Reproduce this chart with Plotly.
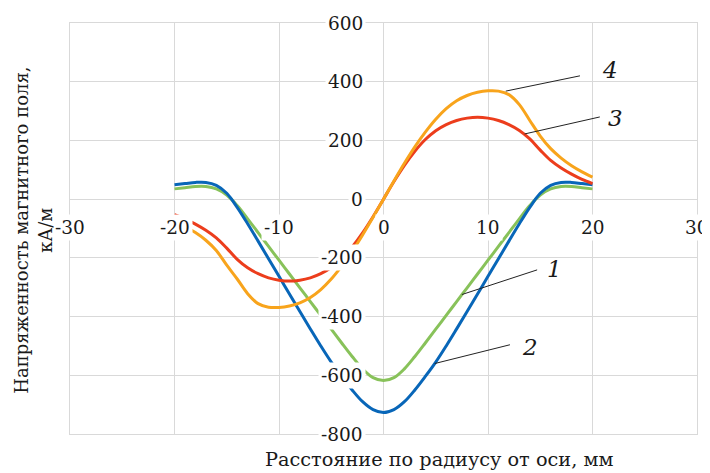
import plotly.graph_objects as go

# ---------------- data ----------------
x_mm = [-20, -19, -18, -17, -16, -15, -14, -13, -12, -11, -10, -9, -8, -7, -6, -5, -4, -3, -2, -1,
        0, 1, 2, 3, 4, 5, 6, 7, 8, 9, 10, 11, 12, 13, 14, 15, 16, 17, 18, 19, 20]

curve1 = [35, 39, 43, 43, 35, 14, -22, -67, -114, -161, -208, -255, -302, -349, -396, -443, -490, -536, -578, -608,
          -618, -608, -578, -536, -490, -443, -396, -349, -302, -255, -208, -161, -114, -67, -22, 14, 35, 43, 43, 39, 35]

curve2 = [49, 53, 57, 57, 47, 20, -28, -84, -143, -203, -263, -323, -383, -442, -500, -555, -604, -650, -690, -717,
          -727, -717, -690, -650, -604, -555, -500, -442, -383, -323, -263, -203, -143, -84, -28, 20, 47, 57, 57, 53, 49]

curve3 = [-53, -67, -85, -106, -132, -167, -205, -234, -254, -268, -276, -279, -276, -268, -254, -233, -203, -163, -115, -60,
          0, 60, 115, 163, 203, 233, 254, 268, 276, 279, 276, 268, 254, 234, 205, 167, 132, 106, 85, 67, 53]

curve4 = [-75, -93, -114, -140, -175, -225, -272, -322, -356, -368, -369, -364, -353, -335, -308, -272, -228, -178, -122, -62,
          0, 62, 122, 178, 228, 272, 308, 335, 353, 364, 369, 368, 356, 322, 268, 215, 172, 140, 114, 93, 75]

series_names = ["1", "2", "3", "4"]
series_colors = ["#88C25A", "#0866B8", "#EC3D1C", "#F8A41C"]

x_ticks = [-30, -20, -10, 0, 10, 20, 30]
y_ticks = [-800, -600, -400, -200, 0, 200, 400, 600]

x_title = "Расстояние по радиусу от оси, мм"
y_title_lines = ["Напряженность магнитного поля,", "кА/м"]

# leader lines: (curve point), (line end), (label centre)
leaders = {
    "4": ((11.7, 368), (18.8, 420), (21.7, 441)),
    "3": ((13.5, 222), (20.7, 280), (22.2, 277)),
    "1": ((7.5, -325), (14.7, -241), (16.4, -238)),
    "2": ((4.9, -560), (12.1, -496), (14.0, -503)),
}

# ---------------- figure ----------------
FONT = "DejaVu Serif"
GRID = "#D9D9D9"
TXT = "#1a1a1a"

fig = go.Figure()
for name, ys, col in zip(series_names, [curve1, curve2, curve3, curve4], series_colors):
    fig.add_trace(go.Scatter(x=x_mm, y=ys, mode="lines", name=name,
                             line=dict(color=col, width=3, shape="spline", smoothing=1.0),
                             hoverinfo="skip", showlegend=False))

annotations = []
for xv in x_ticks:
    annotations.append(dict(x=xv, y=0, xref="x", yref="y", text=str(xv), showarrow=False,
                            xanchor="center", yanchor="middle", yshift=-28,
                            bgcolor="white", borderpad=2,
                            font=dict(family=FONT, size=18.5, color=TXT)))
for yv in y_ticks:
    annotations.append(dict(x=0, y=yv, xref="x", yref="y", text=str(yv), showarrow=False,
                            xanchor="right", yanchor="middle", xshift=-18,
                            bgcolor="white", borderpad=2,
                            font=dict(family=FONT, size=18.5, color=TXT)))

shapes = []
for lab, (p0, p1, pl) in leaders.items():
    shapes.append(dict(type="line", xref="x", yref="y", x0=p0[0], y0=p0[1], x1=p1[0], y1=p1[1],
                       line=dict(color="#222222", width=1)))
    annotations.append(dict(x=pl[0], y=pl[1], xref="x", yref="y", text=f"<i>{lab}</i>", showarrow=False,
                            xanchor="center", yanchor="middle",
                            font=dict(family=FONT, size=23, color=TXT)))

annotations.append(dict(x=0.5885, y=-0.061, xref="paper", yref="paper", text=x_title, showarrow=False,
                        xanchor="center", yanchor="middle",
                        font=dict(family=FONT, size=19.3, color=TXT)))
for xp, line in zip([-0.0766, -0.0383], y_title_lines):
    annotations.append(dict(x=xp, y=0.497, xref="paper", yref="paper", text=line, showarrow=False,
                            xanchor="center", yanchor="middle", textangle=-90,
                            font=dict(family=FONT, size=18, color=TXT)))

fig.update_layout(
    width=702, height=465,
    margin=dict(l=62, r=13, t=15, b=39),
    paper_bgcolor="white", plot_bgcolor="white",
    annotations=annotations, shapes=shapes,
    xaxis=dict(range=[-30, 30], tickvals=x_ticks, showticklabels=False, showgrid=True,
               gridcolor=GRID, gridwidth=1, zeroline=True, zerolinecolor=GRID, zerolinewidth=1,
               showline=True, linecolor=GRID, linewidth=1, mirror=True, ticks=""),
    yaxis=dict(range=[-800, 600], tickvals=y_ticks, showticklabels=False, showgrid=True,
               gridcolor=GRID, gridwidth=1, zeroline=True, zerolinecolor=GRID, zerolinewidth=1,
               showline=True, linecolor=GRID, linewidth=1, mirror=True, ticks=""),
)

fig.write_html("out.html")
